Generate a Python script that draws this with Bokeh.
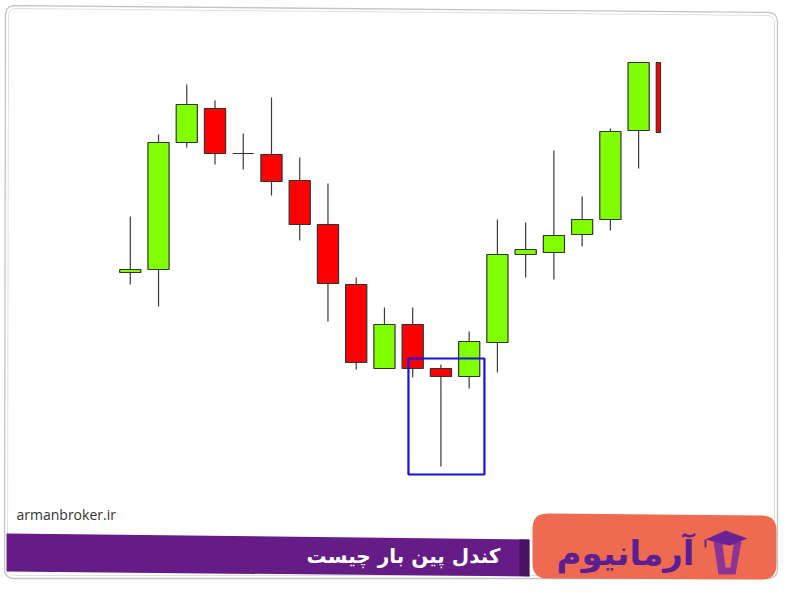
import numpy as np
from bokeh.plotting import figure
from bokeh.models import Range1d
from bokeh.embed import file_html
from bokeh.resources import INLINE
from bokeh.core.properties import value

# ---- candle data (arbitrary price units) ----
opens  = [114, 115.5, 179, 196, 173.5, 173, 160, 138, 108, 66, 88, 66, 62, 79, 123, 124, 133, 140.5, 185, 232]
closes = [115.5, 179, 198, 173.5, 173.5, 159.5, 138, 108.5, 69, 88, 66, 62, 79.5, 123, 125.5, 132.5, 140.5, 184.5, 230, 184]
highs  = [142, 183, 208, 200, 183.5, 201.5, 171.5, 158.5, 111.5, 96.5, 96.5, 68, 84.5, 140.5, 139, 175, 152, 186, 240, 240]
lows   = [108, 97, 176.5, 168, 165.5, 152.5, 130, 89.5, 65.5, 66, 61.5, 17, 56, 64, 111.5, 110.5, 127, 135, 166, 180]
pin_index = 11
site_text = "armanbroker.ir"
title_text = "کندل پین بار چیست"
brand_text = "آرمانیوم"

W, H = 779, 580
p = figure(width=W, height=H, output_backend="svg", toolbar_location=None,
           x_range=Range1d(0, W), y_range=Range1d(H, 0), min_border=0)
p.extra_x_ranges = {"idx": Range1d(-4.596, 22.989)}
p.extra_y_ranges = {"price": Range1d(-40, 250)}
p.axis.visible = False
p.grid.visible = False
p.outline_line_color = None
p.background_fill_color = "white"
p.border_fill_color = "white"

# ---- candles (clipped to the visible chart window) ----
o = np.array(opens, float); c = np.array(closes, float)
h = np.array(highs, float); l = np.array(lows, float)
idx = np.arange(len(o), dtype=float)
clip_top = 219.0      # price level at top of visible window
clip_right = 18.775   # index position at right of visible window
bw = 0.375
vis = idx <= clip_right
p.segment(x0=idx[vis], y0=l[vis], x1=idx[vis], y1=np.minimum(h[vis], clip_top),
          line_color="#3a3a3a", line_width=1.2, x_range_name="idx", y_range_name="price")
top = np.minimum(np.maximum(o, c), clip_top)
bot = np.minimum(np.minimum(o, c), clip_top)
left = idx - bw
right = np.minimum(idx + bw, clip_right)
cols = np.where(c >= o, "#7fff00", "#ff0000")
p.quad(left=left, right=right, top=top, bottom=bot, fill_color=list(cols),
       line_color="#333333", line_width=1.2, x_range_name="idx", y_range_name="price")

# highlight box around the pin bar
p.quad(left=[pin_index - 1.15], right=[pin_index + 1.54], top=[71], bottom=[l[pin_index] - 4],
       fill_color=None, line_color="#1414e6", line_width=2.2,
       x_range_name="idx", y_range_name="price")

# ---- decoration ----
def rpoly(pts, r, n=8):
    # closed polygon with rounded corners
    pts = np.array(pts, float)
    xs, ys = [], []
    m = len(pts)
    for k in range(m):
        a, b, cc = pts[k - 1], pts[k], pts[(k + 1) % m]
        u = (a - b) / np.linalg.norm(a - b); v = (cc - b) / np.linalg.norm(cc - b)
        p0 = b + u * r; p1 = b + v * r
        for t in np.linspace(0, 1, n):
            q = (1 - t) ** 2 * p0 + 2 * (1 - t) * t * b + t ** 2 * p1
            xs.append(q[0]); ys.append(q[1])
    return xs + [xs[0]], ys + [ys[0]]

# frame (double grey line, slightly skewed)
fx, fy = rpoly([(5, 5), (777, 12), (777, 578), (4, 578)], 10)
p.line(fx, fy, line_color="#c4c4c4", line_width=1.3)
fx2, fy2 = rpoly([(8, 8), (774, 15), (774, 575), (7, 575)], 8)
p.line(fx2, fy2, line_color="#e0e0e0", line_width=1)

p.text(x=[16], y=[514], text=[site_text], text_font=value("Open Sans"),
       text_font_size="14px", text_color="#333333", text_baseline="middle")

# purple banner
p.patch([6, 529, 529, 6], [533, 539, 576, 571], fill_color="#661c87", line_color=None)
p.patch([519, 529, 529, 519], [538.5, 539, 576, 575.5], fill_color="#2a0a3a", fill_alpha=0.5, line_color=None)
p.text(x=[500], y=[555], text=[title_text], text_font=value("DejaVu Sans"), text_font_style="bold",
       text_font_size="20px", text_color="white", text_align="right", text_baseline="middle")

# orange brand box
bx, by = rpoly([(532, 513), (776, 515), (776, 579), (532, 578)], 15)
p.patch(bx, by, fill_color="#ee6b51", line_color=None)
p.text(x=[625], y=[552], text=[brand_text], text_font=value("DejaVu Sans"), text_font_style="bold",
       text_font_size="34px", text_color="#5b1f92", text_align="center", text_baseline="middle")
# logo icon: cup + cap
p.patch([713, 741, 735, 718], [541, 541, 574, 574], fill_color="#8a3596", line_color=None)
p.patch([722, 733, 730, 725], [544, 544, 567, 567], fill_color="#ee6b51", line_color=None)
p.patch([705, 725, 747, 729], [539, 530, 538, 545], fill_color="#6a2396", line_color=None)
p.segment(x0=[705], y0=[539], x1=[705], y1=[547], line_color="#6a2396", line_width=2)

open("out.html", "w").write(file_html(p, INLINE))
